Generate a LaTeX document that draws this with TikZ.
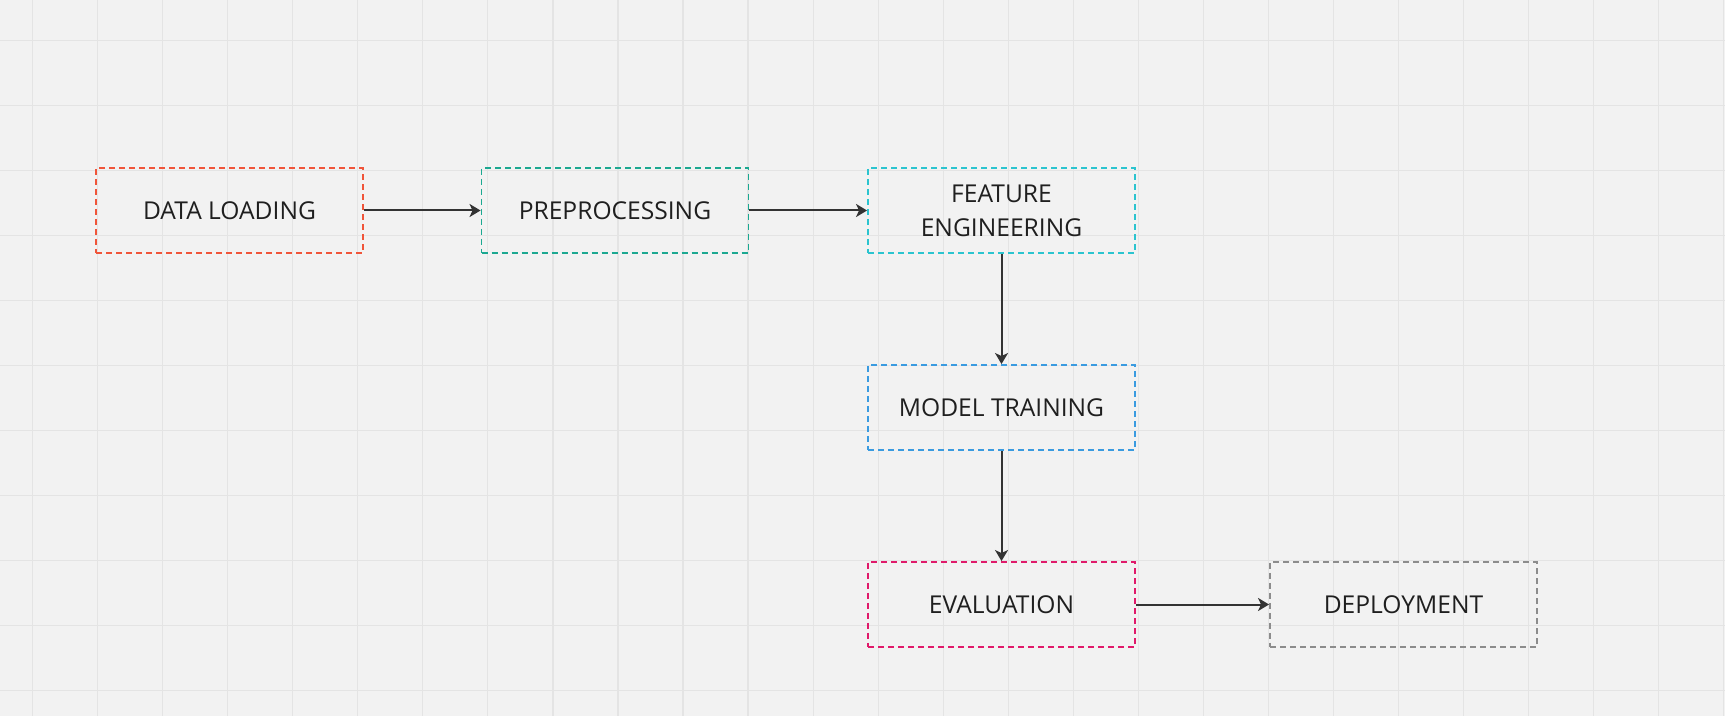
\documentclass[tikz,border=0pt]{standalone}
\usepackage{fontspec}
\setmainfont{Open Sans}
\usepackage{xcolor}
\usetikzlibrary{arrows.meta}
\definecolor{paper}{HTML}{F2F2F2}
\definecolor{gridgray}{HTML}{E4E4E4}
\definecolor{inkdark}{HTML}{1F1F1F}
\definecolor{arrowdark}{HTML}{333333}
\definecolor{loadred}{HTML}{F0553A}
\definecolor{prepteal}{HTML}{1BA891}
\definecolor{featcyan}{HTML}{2BC4CF}
\definecolor{trainblue}{HTML}{3A9BE0}
\definecolor{evalpink}{HTML}{E0196A}
\definecolor{deploygray}{HTML}{8C8C8C}

\begin{document}
\begin{tikzpicture}[x=0.5pt,y=-0.5pt,%
% common options for the stages:
stage/.style = {draw, dashed, dash pattern=on 3pt off 2pt, line width=0.95pt,
            align=center, text=inkdark, minimum width=133.5pt, minimum height=42.5pt,
            inner sep=0, font=\fontsize{12.3}{17}\selectfont},
% common options for the arrows:
flow/.style = {draw=arrowdark, line width=1pt,
            -{Stealth[length=5.5pt,width=6.5pt,inset=1.5pt]}},
gridline/.style = {draw=gridgray, line width=0.6pt}]
\useasboundingbox[fill=paper] (0,0) rectangle (1725,716);
\foreach \gx in {0,...,26} \draw[gridline] (32.5+65.05*\gx,0) -- (32.5+65.05*\gx,716);
\foreach \gy in {0,...,10} \draw[gridline] (0,40.5+65*\gy) -- (1725,40.5+65*\gy);
\node[stage,draw=loadred] (load) at (229.5,210.5) {DATA LOADING};
\node[stage,draw=prepteal] (prep) at (615,210.5) {PREPROCESSING};
\node[stage,draw=featcyan] (feat) at (1001.5,210.5) {FEATURE\\ENGINEERING};
\node[stage,draw=trainblue] (train) at (1001.5,407.5) {MODEL TRAINING};
\node[stage,draw=evalpink] (eval) at (1001.5,604.5) {EVALUATION};
\node[stage,draw=deploygray] (deploy) at (1403.5,604.5) {DEPLOYMENT};
\draw[flow] (load.east) to (prep.west);
\draw[flow] (prep.east) to (feat.west);
\draw[flow] (feat.south) to (train.north);
\draw[flow] (train.south) to (eval.north);
\draw[flow] (eval.east) to (deploy.west);
\end{tikzpicture}
\end{document}
